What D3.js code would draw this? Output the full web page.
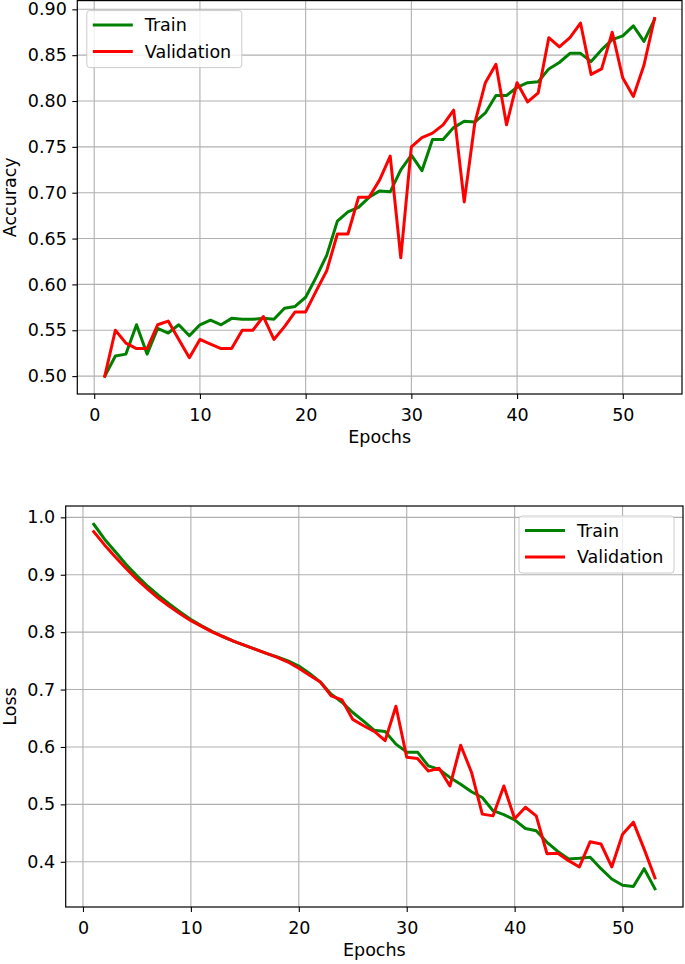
<!DOCTYPE html>
<html>
<head>
<meta charset="utf-8">
<script src="https://cdn.jsdelivr.net/npm/d3@7"></script>
<style>
  body { margin: 0; background: #fff; }
  svg { display: block; font-family: "DejaVu Sans", sans-serif; }
</style>
</head>
<body>
<div id="chart"></div>
<script>
// ---- data ----
const epochs = [1,2,3,4,5,6,7,8,9,10,11,12,13,14,15,16,17,18,19,20,21,22,23,24,25,26,27,
  28,29,30,31,32,33,34,35,36,37,38,39,40,41,42,43,44,45,46,47,48,49,50,51,52,53];

const accTrain = [0.500,0.522,0.524,0.556,0.524,0.552,0.547,0.556,0.544,0.556,0.561,0.556,0.563,
  0.562,0.562,0.563,0.562,0.574,0.576,0.586,0.608,0.632,0.669,0.679,0.684,0.695,0.702,0.701,
  0.725,0.741,0.724,0.758,0.758,0.771,0.778,0.777,0.787,0.806,0.806,0.815,0.820,0.821,0.835,
  0.842,0.852,0.852,0.843,0.856,0.867,0.871,0.882,0.865,0.889];
const accVal = [0.500,0.550,0.536,0.530,0.530,0.556,0.560,0.540,0.520,0.540,0.535,0.530,0.530,
  0.550,0.550,0.565,0.540,0.554,0.570,0.570,0.593,0.615,0.655,0.655,0.695,0.695,0.714,0.740,
  0.629,0.750,0.760,0.765,0.774,0.790,0.690,0.776,0.820,0.840,0.774,0.820,0.799,0.809,0.869,
  0.859,0.869,0.885,0.829,0.835,0.875,0.825,0.805,0.839,0.890];

const lossTrain = [0.988,0.962,0.940,0.918,0.898,0.880,0.864,0.849,0.835,0.822,0.811,0.801,0.792,
  0.784,0.777,0.770,0.763,0.757,0.750,0.741,0.728,0.713,0.692,0.678,0.660,0.645,0.629,0.627,
  0.605,0.591,0.591,0.567,0.561,0.547,0.535,0.522,0.512,0.489,0.482,0.473,0.458,0.454,0.434,
  0.418,0.405,0.406,0.408,0.388,0.370,0.359,0.357,0.388,0.353];
const lossVal = [0.975,0.952,0.931,0.911,0.892,0.875,0.859,0.845,0.832,0.820,0.810,0.800,0.792,
  0.784,0.777,0.770,0.763,0.756,0.748,0.737,0.725,0.713,0.689,0.682,0.648,0.637,0.627,0.611,
  0.671,0.582,0.580,0.558,0.563,0.532,0.603,0.556,0.483,0.480,0.532,0.475,0.495,0.480,0.414,
  0.415,0.402,0.391,0.435,0.431,0.391,0.448,0.469,0.422,0.372];

const xTicks = [0, 10, 20, 30, 40, 50];
const accTicks = [0.50, 0.55, 0.60, 0.65, 0.70, 0.75, 0.80, 0.85, 0.90];
const lossTicks = [0.4, 0.5, 0.6, 0.7, 0.8, 0.9, 1.0];
const seriesNames = ["Train", "Validation"];
const seriesColors = ["green", "red"];

const W = 685, H = 964;
const FS = 17.5;

const svg = d3.select("#chart").append("svg")
  .attr("width", W).attr("height", H);

// matplotlib-like 5% margin around the data
function padded(ext) {
  const p = (ext[1] - ext[0]) * 0.05;
  return [ext[0] - p, ext[1] + p];
}

function drawPanel(opts) {
  const box = opts.box; // left, right, top, bottom in px
  const x = d3.scaleLinear().domain(padded(d3.extent(epochs))).range([box.left, box.right]);
  const allY = opts.series[0].concat(opts.series[1]);
  const y = d3.scaleLinear().domain(padded(d3.extent(allY))).range([box.bottom, box.top]);

  const g = svg.append("g");

  // grid
  g.append("g").selectAll("line").data(xTicks).join("line")
    .attr("x1", d => x(d)).attr("x2", d => x(d))
    .attr("y1", box.top).attr("y2", box.bottom)
    .attr("stroke", "#b0b0b0").attr("stroke-width", 1.1);
  g.append("g").selectAll("line").data(opts.yTicks).join("line")
    .attr("x1", box.left).attr("x2", box.right)
    .attr("y1", d => y(d)).attr("y2", d => y(d))
    .attr("stroke", "#b0b0b0").attr("stroke-width", 1.1);

  // curves
  const line = d3.line()
    .x((d, i) => x(epochs[i]))
    .y(d => y(d));
  opts.series.forEach(function(s, k) {
    g.append("path")
      .datum(s)
      .attr("d", line)
      .attr("fill", "none")
      .attr("stroke", seriesColors[k])
      .attr("stroke-width", 3)
      .attr("stroke-linejoin", "round")
      .attr("stroke-linecap", "square");
  });

  // axes
  const xAxis = g.append("g")
    .attr("transform", "translate(0," + box.bottom + ")")
    .call(d3.axisBottom(x).tickValues(xTicks).tickSize(5).tickPadding(9.5).tickSizeOuter(0));
  const yAxis = g.append("g")
    .attr("transform", "translate(" + box.left + ",0)")
    .call(d3.axisLeft(y).tickValues(opts.yTicks).tickFormat(d3.format(opts.fmt))
      .tickSize(5).tickPadding(5.5).tickSizeOuter(0));
  [xAxis, yAxis].forEach(function(a) {
    a.select(".domain").remove();
    a.selectAll("line").attr("stroke", "#000").attr("stroke-width", 1.1);
    a.selectAll("text").attr("font-size", FS).attr("fill", "#000")
      .attr("font-family", "DejaVu Sans, sans-serif");
  });

  // frame
  g.append("rect")
    .attr("x", box.left).attr("y", box.top)
    .attr("width", box.right - box.left).attr("height", box.bottom - box.top)
    .attr("fill", "none").attr("stroke", "#000").attr("stroke-width", 1.2);

  // axis labels
  g.append("text")
    .attr("x", (box.left + box.right) / 2).attr("y", box.bottom + 49)
    .attr("text-anchor", "middle").attr("font-size", FS)
    .text("Epochs");
  g.append("text")
    .attr("transform", "translate(16," + ((box.top + box.bottom) / 2) + ") rotate(-90)")
    .attr("text-anchor", "middle").attr("font-size", FS)
    .text(opts.ylabel);

  // legend
  const lw = 155, lh = 57;
  const lx = opts.legendRight ? box.right - 9 - lw : box.left + 9.5;
  const ly = box.top + 10;
  const leg = g.append("g").attr("transform", "translate(" + lx + "," + ly + ")");
  leg.append("rect")
    .attr("width", lw).attr("height", lh).attr("rx", 3)
    .attr("fill", "#fff").attr("fill-opacity", 0.8)
    .attr("stroke", "#cccccc").attr("stroke-width", 1);
  seriesNames.forEach(function(name, k) {
    const cy = 14.5 + k * 26.5;
    leg.append("line")
      .attr("x1", 6).attr("x2", 46).attr("y1", cy).attr("y2", cy)
      .attr("stroke", seriesColors[k]).attr("stroke-width", 3);
    leg.append("text")
      .attr("x", 58).attr("y", cy + 6.3)
      .attr("font-size", FS).attr("fill", "#000")
      .text(name);
  });
}

drawPanel({
  box: { left: 77.3, right: 682, top: 0.6, bottom: 394 },
  series: [accTrain, accVal],
  yTicks: accTicks, fmt: ".2f", ylabel: "Accuracy", legendRight: false
});

drawPanel({
  box: { left: 65.7, right: 683, top: 506, bottom: 907 },
  series: [lossTrain, lossVal],
  yTicks: lossTicks, fmt: ".1f", ylabel: "Loss", legendRight: true
});
</script>
</body>
</html>
